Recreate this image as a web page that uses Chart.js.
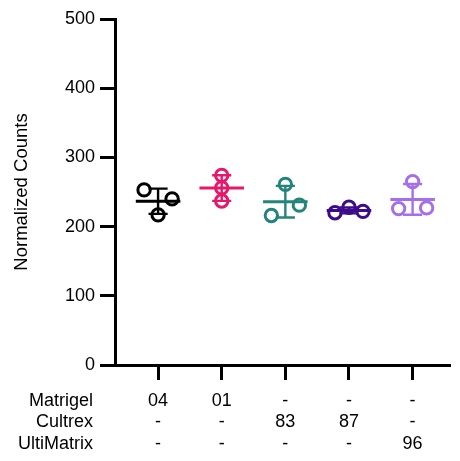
<!DOCTYPE html>
<html>
<head>
<meta charset="utf-8">
<script src="https://cdn.jsdelivr.net/npm/chart.js@4"></script>
<style>
  html, body { margin: 0; padding: 0; background: #fff; }
  canvas { display: block; }
</style>
</head>
<body>
<canvas id="c" width="460" height="461"></canvas>
<script>
// ---- data ----
const rowNames = ['Matrigel', 'Cultrex', 'UltiMatrix'];
const matrigelRow = ['04', '01', '-', '-', '-'];
const cultrexRow = ['-', '-', '83', '87', '-'];
const ultimatrixRow = ['-', '-', '-', '-', '96'];
const group04 = [253, 240, 217];
const group01 = [274, 256, 237];
const group83 = [216, 231, 261];
const group87 = [220, 228, 222];
const group96 = [265, 226, 227];
const yTicks = [0, 100, 200, 300, 400, 500];
const yTitle = 'Normalized Counts';

// ---- styling ----
const groups = [group04, group01, group83, group87, group96];
const colors = ['#000000', '#E5186C', '#23847C', '#3E0B8B', '#A56FEA'];
const FONT = { family: "'Liberation Sans', Arial, sans-serif", size: 18, lineHeight: 1.2 };
const TITLE_FONT = { family: "'Liberation Sans', Arial, sans-serif", size: 18.5, lineHeight: 1.2 };
const TICK_LEN = 15, TICK_PAD = 10;
const SPREAD = 0.22, CLOSE = 16.5;

function stats(vals) {
  const n = vals.length;
  const m = vals.reduce((a, b) => a + b, 0) / n;
  const sd = Math.sqrt(vals.reduce((a, b) => a + (b - m) * (b - m), 0) / (n - 1));
  return { m, sd };
}

// simple swarm: points whose values lie close together are spread sideways (in entry order)
function swarmOffsets(vals) {
  const order = vals.map((v, i) => i).sort((a, b) => vals[a] - vals[b]);
  const clusters = [];
  let cur = [order[0]];
  for (let k = 1; k < order.length; k++) {
    if (vals[order[k]] - vals[order[k - 1]] < CLOSE) cur.push(order[k]);
    else { clusters.push(cur); cur = [order[k]]; }
  }
  clusters.push(cur);
  const off = new Array(vals.length).fill(0);
  clusters.forEach(cl => {
    const idx = cl.slice().sort((a, b) => a - b);
    const n = idx.length;
    idx.forEach((di, k) => {
      off[di] = n === 2 ? (k === 0 ? -SPREAD : SPREAD) : (k - (n - 1) / 2) * SPREAD;
    });
  });
  return off;
}

const datasets = groups.map((vals, gi) => {
  const off = swarmOffsets(vals);
  return {
    data: vals.map((v, i) => ({ x: gi + off[i], y: v })),
    pointStyle: 'circle',
    pointRadius: 6.2,
    pointHoverRadius: 6.2,
    borderWidth: 3,
    pointBorderWidth: 3,
    borderColor: colors[gi],
    pointBorderColor: colors[gi],
    backgroundColor: 'rgba(0,0,0,0)',
    pointBackgroundColor: 'rgba(0,0,0,0)',
    showLine: false
  };
});

const summaryPlugin = {
  id: 'summary',
  beforeDatasetsDraw(chart) {
    const { ctx, scales: { x, y } } = chart;
    ctx.save();
    groups.forEach((vals, gi) => {
      const { m, sd } = stats(vals);
      ctx.strokeStyle = colors[gi];
      ctx.lineCap = 'butt';
      // error bar
      ctx.lineWidth = 2.4;
      ctx.beginPath();
      ctx.moveTo(x.getPixelForValue(gi), y.getPixelForValue(m - sd));
      ctx.lineTo(x.getPixelForValue(gi), y.getPixelForValue(m + sd));
      [m - sd, m + sd].forEach(v => {
        ctx.moveTo(x.getPixelForValue(gi - 0.15), y.getPixelForValue(v));
        ctx.lineTo(x.getPixelForValue(gi + 0.15), y.getPixelForValue(v));
      });
      ctx.stroke();
      // mean
      ctx.lineWidth = 3;
      ctx.beginPath();
      ctx.moveTo(x.getPixelForValue(gi - 0.35), y.getPixelForValue(m));
      ctx.lineTo(x.getPixelForValue(gi + 0.35), y.getPixelForValue(m));
      ctx.stroke();
    });
    ctx.restore();
  },
  afterDraw(chart) {
    const { ctx, scales: { x } } = chart;
    const lh = FONT.size * FONT.lineHeight;
    ctx.save();
    ctx.font = FONT.size + 'px ' + FONT.family;
    ctx.fillStyle = '#000';
    ctx.textAlign = 'right';
    ctx.textBaseline = 'middle';
    rowNames.forEach((name, r) => {
      ctx.fillText(name, 93, x.top + TICK_LEN + TICK_PAD + lh * (r + 0.5));
    });
    ctx.restore();
  }
};

new Chart(document.getElementById('c'), {
  type: 'scatter',
  data: { datasets },
  options: {
    responsive: false,
    animation: false,
    events: [],
    layout: { padding: { top: 19, right: 2, left: 0, bottom: 0 } },
    plugins: { legend: { display: false }, tooltip: { enabled: false } },
    scales: {
      x: {
        type: 'linear',
        min: -0.677,
        max: 4.6,
        afterBuildTicks: s => { s.ticks = groups.map((g, i) => ({ value: i })); },
        afterFit: s => { s.height = 96; },
        ticks: {
          autoSkip: false,
          maxRotation: 0,
          minRotation: 0,
          padding: TICK_PAD,
          color: '#000',
          font: FONT,
          callback: (v) => {
            const i = Math.round(v);
            return [matrigelRow[i], cultrexRow[i], ultimatrixRow[i]];
          }
        },
        grid: { drawOnChartArea: false, drawTicks: true, tickLength: TICK_LEN, tickWidth: 3, tickColor: '#000' },
        border: { display: true, color: '#000', width: 3 }
      },
      y: {
        type: 'linear',
        min: 0,
        max: 500,
        afterBuildTicks: s => { s.ticks = yTicks.map(v => ({ value: v })); },
        afterFit: s => { s.width = 115; },
        ticks: { padding: 5, color: '#000', font: FONT },
        title: { display: true, text: yTitle, color: '#000', font: TITLE_FONT, padding: { top: 11, bottom: 0 } },
        grid: { drawOnChartArea: false, drawTicks: true, tickLength: TICK_LEN, tickWidth: 3, tickColor: '#000' },
        border: { display: true, color: '#000', width: 3 }
      }
    }
  },
  plugins: [summaryPlugin]
});
</script>
</body>
</html>
